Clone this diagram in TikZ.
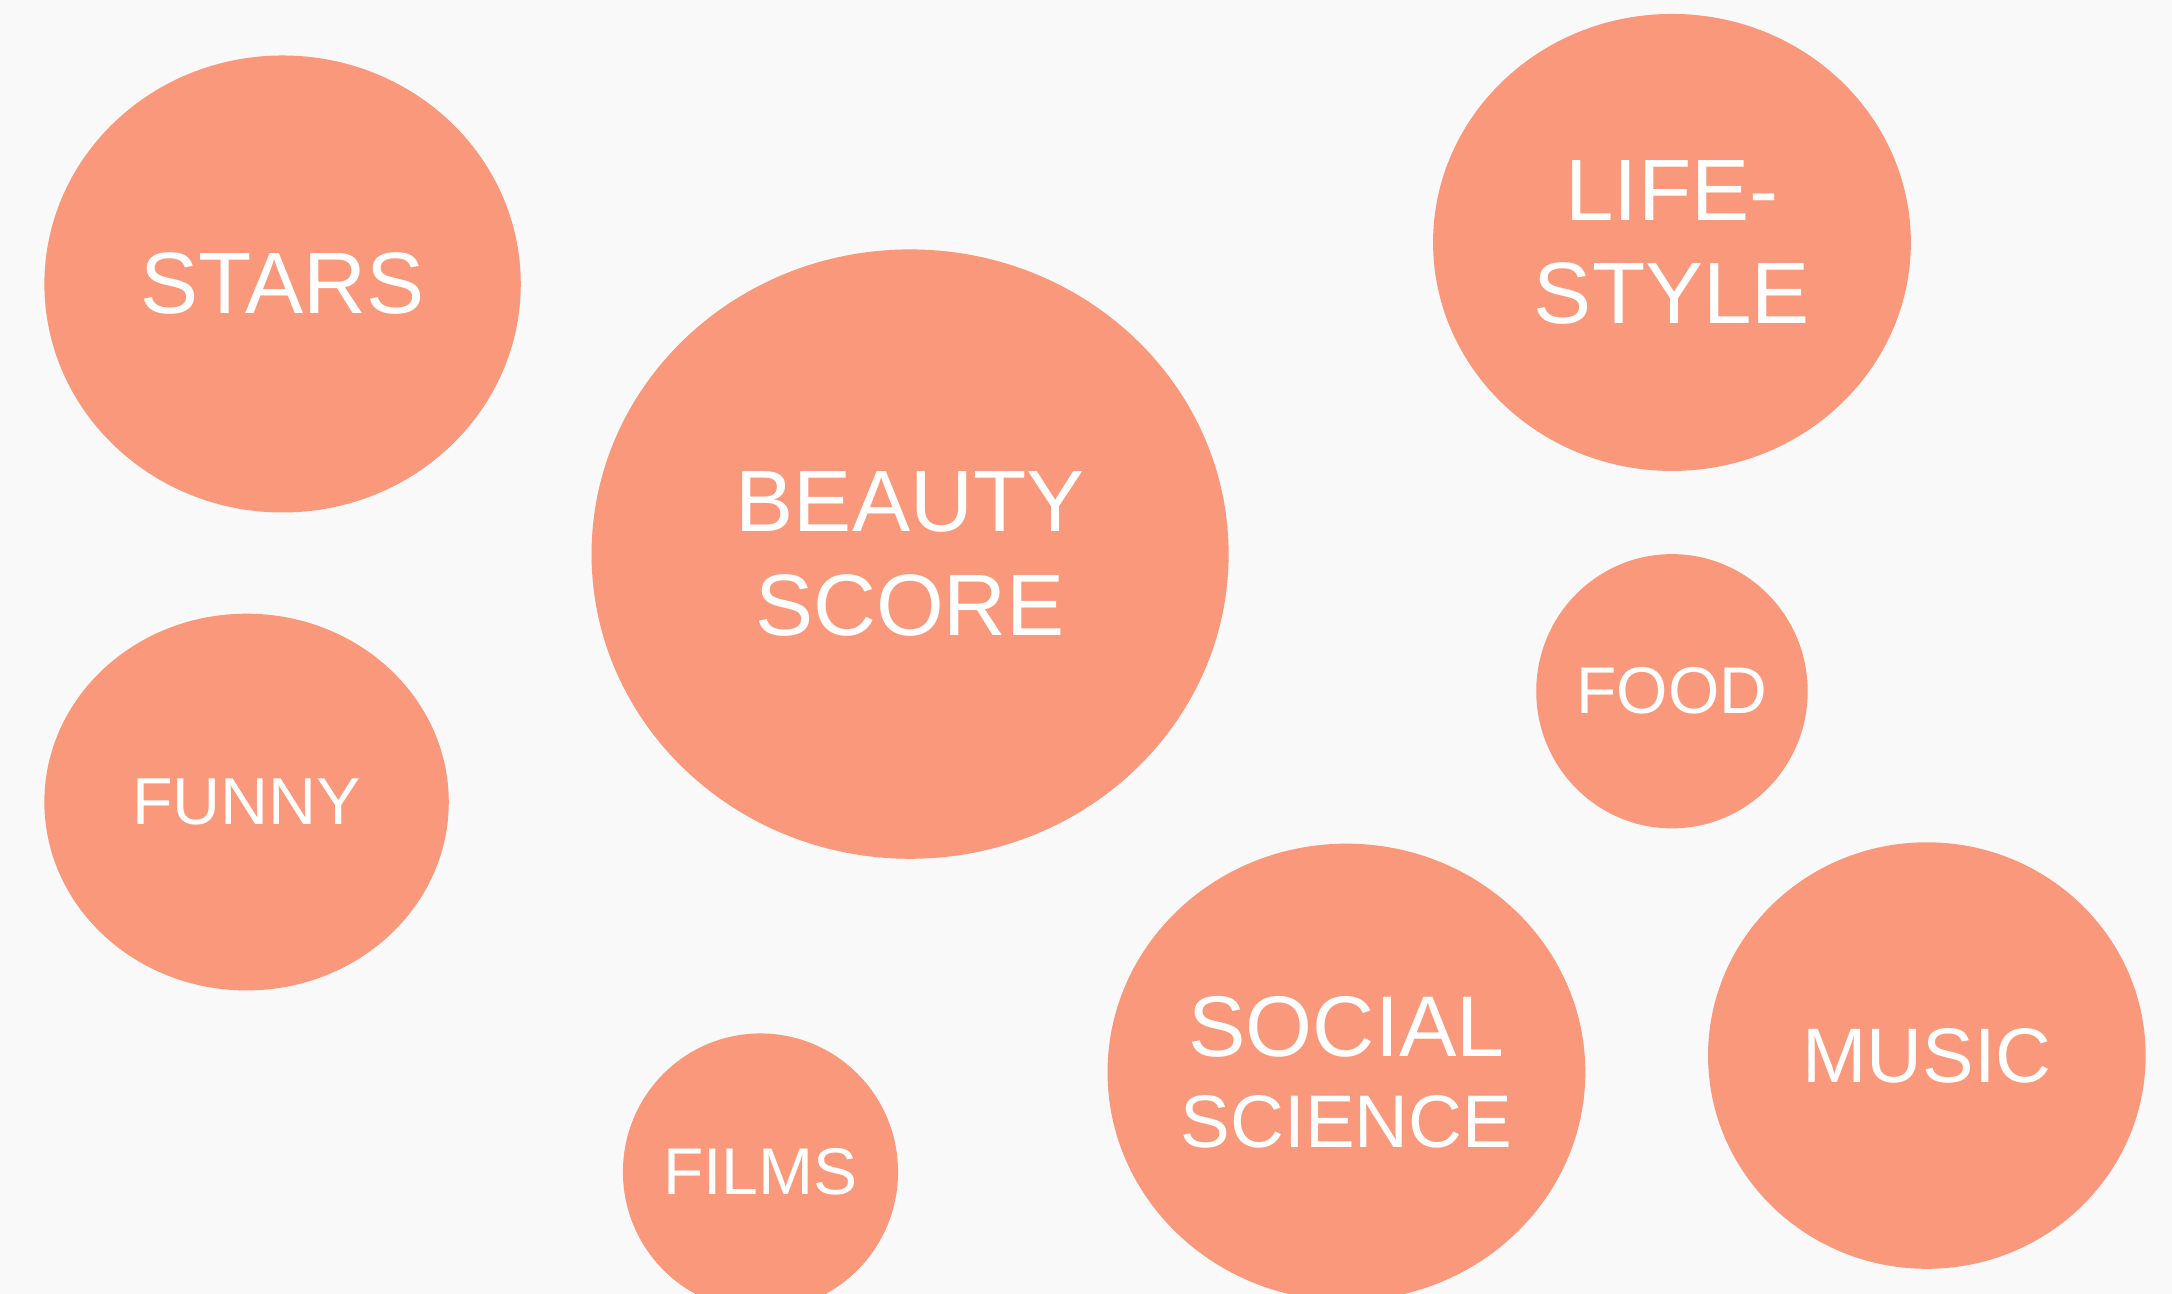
\documentclass[tikz,border=0pt]{standalone}
\usepackage{fontspec}
\setmainfont{Liberation Sans}
\usetikzlibrary{shapes.geometric}
\definecolor{salmon}{HTML}{FA987C}
\definecolor{paper}{HTML}{F9F9F9}

\begin{document}
\begin{tikzpicture}[x=0.013852cm, y=-0.013852cm,
    bubble/.style={ellipse, fill=salmon, text=white, inner sep=0pt, align=center},
    big/.style={font=\fontsize{24.8}{29.5}\selectfont},
    small/.style={font=\fontsize{18.8}{23}\selectfont}]
            % Define the background
            \fill[paper] (0,0) rectangle (1568,934);
            \clip (0,0) rectangle (1568,934);
            \useasboundingbox (0,0) rectangle (1568,934);

            % Large bubbles
            \node[bubble, big, minimum width=4.765cm, minimum height=4.571cm] (stars) at (204,205) {STARS};
            \node[bubble, big, minimum width=6.372cm, minimum height=6.095cm] (beauty) at (657,400) {BEAUTY\\SCORE};
            \node[bubble, big, minimum width=4.779cm, minimum height=4.571cm] (lifestyle) at (1207,175) {LIFE-\\STYLE};
            \node[bubble, font=\fontsize{21.2}{26}\selectfont, minimum width=4.779cm, minimum height=4.571cm] (social) at (972,774) {{\fontsize{24.5}{26}\selectfont SOCIAL}\\SCIENCE};
            \node[bubble, font=\fontsize{22}{26}\selectfont, minimum width=4.377cm, minimum height=4.266cm] (music) at (1391,762) {MUSIC};

            % Small bubbles
            \node[bubble, font=\fontsize{18.9}{23}\selectfont, minimum width=4.045cm, minimum height=3.768cm] (funny) at (178,579) {FUNNY};
            \node[bubble, small, minimum width=2.715cm, minimum height=2.743cm] (food) at (1207,499) {FOOD};
            \node[bubble, small, minimum width=2.729cm, minimum height=2.770cm] (films) at (549,846) {FILMS};
\end{tikzpicture}
\end{document}
